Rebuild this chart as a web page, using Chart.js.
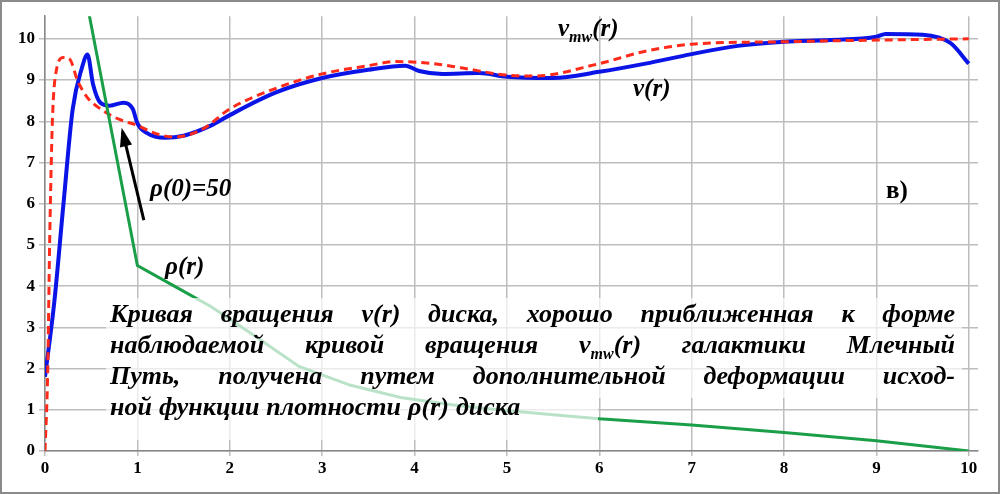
<!DOCTYPE html>
<html>
<head>
<meta charset="utf-8">
<script src="https://cdn.jsdelivr.net/npm/chart.js@4/dist/chart.umd.min.js"></script>
<style>
  html, body { margin: 0; padding: 0; background: #fff; }
  #wrap { position: relative; width: 1000px; height: 494px; box-sizing: border-box; border: 2px solid #8a8a8a; }
  canvas { display: block; }
</style>
</head>
<body>
<div id="wrap"><canvas id="c" width="996" height="490"></canvas></div>
<script>
// v(r) - rotation curve of the disk
const vR = [[0,1.8],[0.1,3.6],[0.2,6.0],[0.3,8.3],[0.4,9.3],[0.46,9.62],[0.52,8.9],[0.6,8.45],[0.7,8.38],[0.85,8.45],[0.95,8.3],[1.0,7.95],[1.1,7.72],[1.3,7.6],[1.5,7.65],[1.8,7.9],[2,8.15],[2.5,8.7],[3,9.05],[3.5,9.25],[3.9,9.35],[4.05,9.22],[4.3,9.15],[4.7,9.17],[5,9.08],[5.5,9.05],[6,9.2],[6.5,9.4],[7,9.63],[7.5,9.83],[8,9.93],[8.5,9.97],[9,10.05],[9.1,10.12],[9.5,10.1],[9.8,9.9],[10,9.4]];
// v_mw(r) - observed Milky Way rotation curve
const vMw = [[0,0],[0.03,2],[0.05,5],[0.08,8],[0.12,9.2],[0.2,9.55],[0.27,9.5],[0.35,9.0],[0.45,8.6],[0.6,8.3],[0.8,8.05],[1,7.9],[1.2,7.7],[1.4,7.62],[1.7,7.8],[2,8.3],[2.5,8.8],[3,9.15],[3.5,9.35],[3.8,9.45],[4.2,9.4],[4.5,9.3],[5,9.12],[5.3,9.1],[6,9.4],[6.5,9.7],[7,9.87],[8,9.93],[9,9.97],[10,10]];
// rho(r) - density function
const rho = [[0.4,11.5],[1,4.5],[1.4,4.0],[1.8,3.5],[2.2,2.9],[2.75,2.05],[3.3,1.6],[3.85,1.3],[4.4,1.12],[4.9,1.0],[5.5,0.88],[6,0.78],[7,0.63],[8,0.45],[9,0.25],[10,0]];
const xTicks = [0,1,2,3,4,5,6,7,8,9,10];
const yTicks = [0,1,2,3,4,5,6,7,8,9,10];

const toPts = a => a.map(p => ({x: p[0], y: p[1]}));
const SERIF = '"Liberation Serif", "DejaVu Serif", serif';

const caption = ['Кривая вращения v(r) диска, хорошо приближенная к форме',
  'наблюдаемой кривой вращения v_mw(r) галактики Млечный',
  'Путь, получена путем дополнительной деформации исход-',
  'ной функции плотности ρ(r) диска'];

function drawWithSub(ctx, text, x, y, size) {
  const parts = text.split(/_(mw)/);
  let cx = x;
  parts.forEach(p => {
    const sub = p === 'mw';
    ctx.font = 'italic bold ' + (sub ? Math.round(size * 0.62) : size) + 'px ' + SERIF;
    ctx.fillText(p, cx, sub ? y + size * 0.22 : y);
    cx += ctx.measureText(p).width;
  });
  return cx - x;
}
function widthWithSub(ctx, text, size) {
  let w = 0;
  text.split(/_(mw)/).forEach(p => {
    ctx.font = 'italic bold ' + (p === 'mw' ? Math.round(size * 0.62) : size) + 'px ' + SERIF;
    w += ctx.measureText(p).width;
  });
  return w;
}

const annotations = {
  id: 'annotations',
  afterDraw(chart) {
    const ctx = chart.ctx;
    const xs = chart.scales.x, ys = chart.scales.y;
    ctx.save();
    // faded box behind caption
    ctx.fillStyle = 'rgba(255,255,255,0.7)';
    ctx.fillRect(104, 296, 856, 100);
    ctx.fillRect(104, 396, 492, 42);

    ctx.fillStyle = '#000';
    ctx.textBaseline = 'alphabetic';
    // arrow
    const x0 = xs.getPixelForValue(1.07), y0 = ys.getPixelForValue(5.6);
    const x1 = xs.getPixelForValue(0.84), y1 = ys.getPixelForValue(7.75);
    ctx.strokeStyle = '#000'; ctx.lineWidth = 3;
    ctx.beginPath(); ctx.moveTo(x0, y0); ctx.lineTo(x1, y1); ctx.stroke();
    const ang = Math.atan2(y1 - y0, x1 - x0);
    ctx.beginPath();
    ctx.moveTo(x1 + Math.cos(ang) * 4, y1 + Math.sin(ang) * 4);
    ctx.lineTo(x1 - Math.cos(ang - 0.4) * 16, y1 - Math.sin(ang - 0.4) * 16);
    ctx.lineTo(x1 - Math.cos(ang + 0.4) * 16, y1 - Math.sin(ang + 0.4) * 16);
    ctx.closePath(); ctx.fill();

    ctx.font = 'italic bold 25px ' + SERIF;
    ctx.fillText('ρ(0)=50', 148, 194);
    ctx.fillText('ρ(r)', 163, 272);
    ctx.fillText('v(r)', 631, 94);
    drawWithSub(ctx, 'v_mw(r)', 556, 34, 25);
    ctx.font = 'bold 25px ' + SERIF;
    ctx.fillText('в)', 884, 196);

    // caption, justified
    const size = 26, left = 108, right = 953;
    caption.forEach((line, i) => {
      const y = 320 + i * 31;
      const words = line.split(' ');
      const wsum = words.reduce((s, w) => s + widthWithSub(ctx, w, size), 0);
      const last = i === caption.length - 1;
      const gap = last ? 7 : (right - left - wsum) / (words.length - 1);
      let cx = left;
      words.forEach(w => { cx += drawWithSub(ctx, w, cx, y, size) + gap; });
    });
    ctx.restore();
  }
};

new Chart(document.getElementById('c'), {
  type: 'scatter',
  data: {
    datasets: [
      { data: toPts(rho), showLine: true, borderColor: '#1a9e48', borderWidth: 3, pointRadius: 0, tension: 0 },
      { data: toPts(vMw), showLine: true, borderColor: '#ff2a1a', borderWidth: 3, borderDash: [8, 5], pointRadius: 0, cubicInterpolationMode: 'monotone' },
      { data: toPts(vR), showLine: true, borderColor: '#0a14e6', borderWidth: 4, pointRadius: 0, cubicInterpolationMode: 'monotone' }
    ]
  },
  options: {
    responsive: false,
    animation: false,
    layout: { padding: { left: 0, top: 12, right: 20, bottom: 0 } },
    plugins: { legend: { display: false }, tooltip: { enabled: false } },
    scales: {
      x: {
        type: 'linear', min: 0, max: 10.1,
        afterBuildTicks: s => { s.ticks = xTicks.map(v => ({value: v})); },
        afterFit: s => { s.height = 41; },
        grid: { color: '#bdbdbd', lineWidth: 1.5, drawTicks: true, tickLength: 5 },
        border: { color: '#888', width: 1.5 },
        ticks: { color: '#000', font: { family: SERIF, weight: 'bold', size: 17 }, padding: 2, maxRotation: 0 }
      },
      y: {
        min: 0, max: 10.55,
        afterBuildTicks: s => { s.ticks = yTicks.map(v => ({value: v})); },
        afterFit: s => { s.width = 43; },
        grid: { color: '#bdbdbd', lineWidth: 1.5, tickLength: 6 },
        border: { color: '#888', width: 1.5 },
        ticks: { color: '#000', font: { family: SERIF, weight: 'bold', size: 17 }, padding: 4 }
      }
    }
  },
  plugins: [annotations]
});
</script>
</body>
</html>
